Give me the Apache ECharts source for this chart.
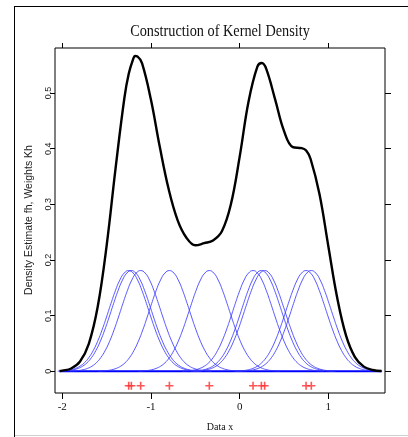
<!DOCTYPE html>
<html>
<head>
<meta charset="utf-8">
<script src="https://cdn.jsdelivr.net/npm/echarts@6/dist/echarts.min.js"></script>
<style>
  html, body { margin: 0; padding: 0; background: #fff; }
  #chart { width: 408px; height: 437px; }
</style>
</head>
<body>
<div id="chart"></div>
<script>
// observed data points (red crosses / kernel centres)
const dataX = [-1.251, -1.221, -1.116, -0.792, -0.342, 0.151, 0.245, 0.282, 0.749, 0.808]
const rugY = -0.026

// one kernel Kh: offset from its centre -> height
const kernelOffsets = [-0.8, -0.75, -0.7, -0.65, -0.6, -0.55, -0.5, -0.45, -0.4, -0.35, -0.3, -0.25, -0.2, -0.15, -0.1, -0.05, 0,
  0.05, 0.1, 0.15, 0.2, 0.25, 0.3, 0.35, 0.4, 0.45, 0.5, 0.55, 0.6, 0.65, 0.7, 0.75, 0.8]
const kernelHeights = [0.0003, 0.0007, 0.0014, 0.0028, 0.0052, 0.0091, 0.0153, 0.0245, 0.0373, 0.054, 0.0744, 0.0976, 0.1219, 0.1449, 0.164, 0.1766, 0.181,
  0.1766, 0.164, 0.1449, 0.1219, 0.0976, 0.0744, 0.054, 0.0373, 0.0245, 0.0153, 0.0091, 0.0052, 0.0028, 0.0014, 0.0007, 0.0003]

// density estimate fh (black curve)
const densityX = [-2.03, -2.0, -1.9, -1.8, -1.7, -1.6, -1.5, -1.4, -1.3, -1.25, -1.2, -1.18, -1.15, -1.1, -1.0, -0.9, -0.8, -0.7, -0.6, -0.5,
  -0.4, -0.3, -0.2, -0.1, 0.0, 0.1, 0.2, 0.25, 0.3, 0.4, 0.5, 0.6, 0.7, 0.75, 0.8, 0.9, 1.0, 1.1, 1.2, 1.3, 1.4, 1.5, 1.6]
const densityY = [0.0006, 0.0012, 0.0051, 0.0175, 0.0499, 0.1163, 0.2255, 0.3635, 0.4907, 0.535, 0.5615, 0.5665, 0.5655, 0.5532, 0.4879, 0.4029, 0.327, 0.2718, 0.24, 0.2265,
  0.2302, 0.2351, 0.2516, 0.2992, 0.3853, 0.4844, 0.5474, 0.554, 0.5434, 0.4888, 0.432, 0.403, 0.401, 0.3967, 0.3815, 0.3185, 0.2248, 0.132, 0.064, 0.0256, 0.0084, 0.0023, 0.0005]

const baseX = [-2.03, 1.6]
const xTicks = [-2, -1, 0, 1]
const yTicks = [0, 0.1, 0.2, 0.3, 0.4, 0.5]

const xMin = -2.082, xMax = 1.639
const yMin = -0.039, yMax = 0.581

const chart = echarts.init(document.getElementById('chart'))

const kernelSeries = dataX.map(c => ({
  type: 'line',
  smooth: true,
  symbol: 'none',
  silent: true,
  lineStyle: { color: '#3a3aff', width: 1, opacity: 0.85 },
  data: kernelOffsets.map((o, j) => [c + o, kernelHeights[j]])
}))

const option = {
  animation: false,
  backgroundColor: '#fff',
  grid: {
    left: 55, right: 23, top: 48, bottom: 43,
    show: true, borderColor: '#000', borderWidth: 1
  },
  xAxis: [
    {
      type: 'value', min: xMin, max: xMax, position: 'bottom',
      axisLine: { show: false, onZero: false },
      splitLine: { show: false },
      axisTick: { show: true, length: 6, customValues: xTicks, lineStyle: { color: '#000' } },
      axisLabel: {
        customValues: xTicks, margin: 9,
        fontFamily: 'Liberation Serif', fontSize: 11, color: '#111'
      },
      name: 'Data x', nameLocation: 'middle', nameGap: 29,
      nameTextStyle: { fontFamily: 'Liberation Serif', fontSize: 10, color: '#111' }
    },
    {
      type: 'value', min: xMin, max: xMax, position: 'top',
      axisLine: { show: false, onZero: false },
      splitLine: { show: false },
      axisTick: { show: true, length: 5, customValues: xTicks, lineStyle: { color: '#000' } },
      axisLabel: { show: false }
    }
  ],
  yAxis: [
    {
      type: 'value', min: yMin, max: yMax, position: 'left',
      axisLine: { show: false, onZero: false },
      splitLine: { show: false },
      axisTick: { show: true, length: 5, customValues: yTicks, lineStyle: { color: '#000' } },
      axisLabel: {
        customValues: yTicks, rotate: 90, margin: 2,
        fontFamily: 'Liberation Sans', fontSize: 9, color: '#222',
        formatter: v => String(v)
      }
    },
    {
      type: 'value', min: yMin, max: yMax, position: 'right',
      axisLine: { show: false, onZero: false },
      splitLine: { show: false },
      axisTick: { show: true, length: 6, customValues: yTicks, lineStyle: { color: '#000' } },
      axisLabel: { show: false }
    }
  ],
  graphic: [
    { type: 'line', shape: { x1: 14.5, y1: 6.5, x2: 14.5, y2: 437 }, style: { stroke: '#000', lineWidth: 1 } },
    { type: 'line', shape: { x1: 14, y1: 6.5, x2: 408, y2: 6.5 }, style: { stroke: '#000', lineWidth: 1 } },
    { type: 'line', shape: { x1: 15, y1: 435.5, x2: 408, y2: 435.5 }, style: { stroke: '#d0d0d0', lineWidth: 1 } },
    {
      type: 'text', x: 220, y: 32, scaleX: 0.84,
      style: {
        text: 'Construction of Kernel Density',
        font: '17px "Liberation Serif"', fill: '#111',
        textAlign: 'center', textVerticalAlign: 'middle'
      }
    },
    {
      type: 'text', x: 29, y: 220, rotation: Math.PI / 2,
      style: {
        text: 'Density Estimate fh, Weights Kh',
        font: '10.5px "Liberation Sans"', fill: '#222',
        textAlign: 'center', textVerticalAlign: 'middle'
      }
    }
  ],
  series: [
    {
      type: 'line',
      symbol: 'none',
      silent: true,
      lineStyle: { color: '#0000ff', width: 2 },
      data: baseX.map(x => [x, 0])
    },
    ...kernelSeries,
    {
      type: 'line',
      smooth: 0.4,
      symbol: 'none',
      silent: true,
      z: 5,
      lineStyle: { color: '#000', width: 2.4 },
      data: densityX.map((x, i) => [x, densityY[i]])
    },
    {
      type: 'scatter',
      symbol: 'path://M4,0h2v4h4v2h-4v4h-2v-4h-4v-2h4z',
      symbolSize: 8,
      itemStyle: { color: '#ff2a2a' },
      silent: true,
      z: 6,
      data: dataX.map(x => [x, rugY])
    }
  ]
}

chart.setOption(option)
</script>
</body>
</html>
